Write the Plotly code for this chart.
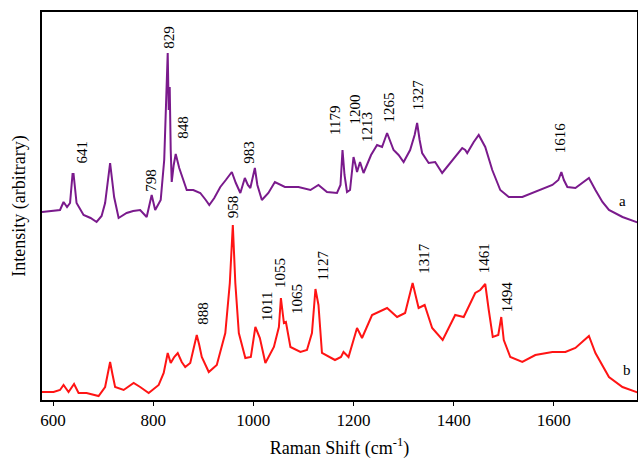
import plotly.graph_objects as go

# Spectrum a (purple), intensity in arbitrary units (offset trace)
wn_a = [578, 600, 614, 621, 628, 634, 639, 641, 647, 661, 675, 687, 697, 704, 710, 714, 718, 722, 731, 747,
        760, 774, 787, 797, 804, 815, 822, 826, 829, 831, 833, 835, 837, 841, 845, 852, 867, 880, 894, 905,
        912, 922, 934, 945, 957, 965, 974, 983, 989, 994, 1003, 1008, 1017, 1030, 1043, 1063, 1090, 1114, 1130, 1147,
        1167, 1174, 1178, 1182, 1187, 1193, 1200, 1204, 1207, 1213, 1220, 1235, 1247, 1257, 1267, 1280, 1290, 1300, 1313, 1322,
        1327, 1332, 1337, 1350, 1363, 1377, 1397, 1417, 1423, 1427, 1440, 1450, 1463, 1477, 1493, 1510, 1537, 1563, 1597, 1609,
        1615, 1620, 1627, 1643, 1660, 1670, 1683, 1697, 1710, 1737, 1770]
ypx_a = [212, 211, 210, 202, 207, 203, 174, 174, 203, 215, 218, 222, 216, 203, 175, 163, 180, 197, 218, 213,
         211, 210, 217, 195, 210, 200, 160, 100, 53, 110, 87, 150, 182, 165, 154, 168, 190, 190, 193, 200,
         205, 198, 187, 180, 172, 183, 193, 178, 185, 188, 168, 185, 200, 193, 182, 187, 187, 190, 185, 192,
         193, 185, 150, 175, 192, 190, 157, 165, 172, 162, 173, 155, 145, 147, 133, 150, 155, 162, 150, 135,
         123, 140, 153, 163, 162, 173, 160, 148, 150, 153, 142, 135, 147, 170, 190, 197, 197, 192, 185, 180,
         172, 180, 187, 188, 182, 178, 190, 202, 210, 217, 223]
int_a = [400 - v for v in ypx_a]

# Spectrum b (red)
wn_b = [578, 601, 614, 621, 631, 642, 651, 667, 691, 704, 710, 714, 719, 724, 741, 761, 774, 791, 811, 821,
        829, 835, 842, 849, 857, 864, 874, 882, 887, 892, 897, 911, 927, 944, 953, 959, 964, 971, 984, 995,
        1004, 1013, 1024, 1041, 1051, 1055, 1061, 1065, 1074, 1094, 1107, 1117, 1124, 1130, 1137, 1163, 1175, 1180, 1190, 1207,
        1217, 1237, 1267, 1287, 1303, 1318, 1330, 1342, 1357, 1378, 1403, 1420, 1443, 1453, 1463, 1470, 1478, 1489, 1495, 1500,
        1513, 1537, 1563, 1597, 1623, 1643, 1670, 1683, 1697, 1710, 1737, 1770]
ypx_b = [392, 392, 390, 385, 392, 384, 393, 393, 396, 387, 372, 362, 375, 387, 390, 383, 387, 393, 385, 373,
         353, 363, 357, 353, 362, 367, 363, 345, 335, 345, 357, 372, 365, 333, 283, 225, 283, 333, 358, 357,
         327, 338, 363, 347, 327, 298, 323, 322, 347, 352, 350, 333, 289, 305, 353, 360, 357, 352, 357, 328,
         338, 315, 308, 317, 313, 283, 308, 305, 328, 340, 315, 317, 293, 290, 284, 310, 337, 335, 317, 340,
         357, 362, 355, 352, 352, 348, 336, 353, 365, 377, 387, 393]
int_b = [400 - v for v in ypx_b]

# Peak labels: text, x (cm-1), y (intensity)
lab_text = ["641", "798", "829", "848", "983", "1179", "1200", "1213", "1265", "1327", "1616",
            "958", "888", "1011", "1055", "1065", "1127", "1317", "1461", "1494"]
lab_x = [657, 795, 831, 859, 991, 1163, 1202, 1227, 1270, 1329, 1613,
         960, 899, 1027, 1053, 1087, 1140, 1340, 1461, 1507]
lab_y = [248, 220, 363, 273, 248, 280, 290, 273, 292, 305, 262,
         193, 87, 94, 127, 101, 135, 142, 142, 103]

trace_names = ["a", "b"]
trace_name_x = [1738, 1747]
trace_name_y = [199, 30]

serif = "Liberation Serif, Times New Roman, serif"

fig = go.Figure()
fig.add_trace(go.Scatter(x=wn_a, y=int_a, mode="lines", line=dict(color="#7a1a8c", width=2), showlegend=False))
fig.add_trace(go.Scatter(x=wn_b, y=int_b, mode="lines", line=dict(color="#ff1414", width=2), showlegend=False))

for t, x, y in zip(lab_text, lab_x, lab_y):
    fig.add_annotation(x=x, y=y, text=t, textangle=-90, showarrow=False,
                       font=dict(family=serif, size=15, color="black"))
for t, x, y in zip(trace_names, trace_name_x, trace_name_y):
    fig.add_annotation(x=x, y=y, text=t, showarrow=False,
                       font=dict(family=serif, size=15, color="black"))

fig.update_layout(
    width=638, height=459,
    margin=dict(l=42, r=1, t=12, b=59),
    paper_bgcolor="white", plot_bgcolor="white",
    font=dict(family=serif, color="black"),
    xaxis=dict(range=[578, 1766], tickvals=[600, 800, 1000, 1200, 1400, 1600],
               ticks="outside", ticklen=4, tickwidth=1, tickcolor="black",
               tickfont=dict(size=17), showgrid=False, zeroline=False,
               showline=True, linecolor="black", linewidth=2, mirror=True, automargin=False,
               title=dict(text="Raman Shift (cm<sup>-1</sup>)", font=dict(size=18), standoff=14)),
    yaxis=dict(range=[0, 388], showticklabels=False, ticks="", showgrid=False, zeroline=False,
               showline=True, linecolor="black", linewidth=2, mirror=True, automargin=False,
               title=dict(text="Intensity (arbitrary)", font=dict(size=18), standoff=10)),
)

fig.write_html("out.html", config={"displayModeBar": False},
               post_script="document.body.style.margin='0';document.body.style.overflow='hidden';")
